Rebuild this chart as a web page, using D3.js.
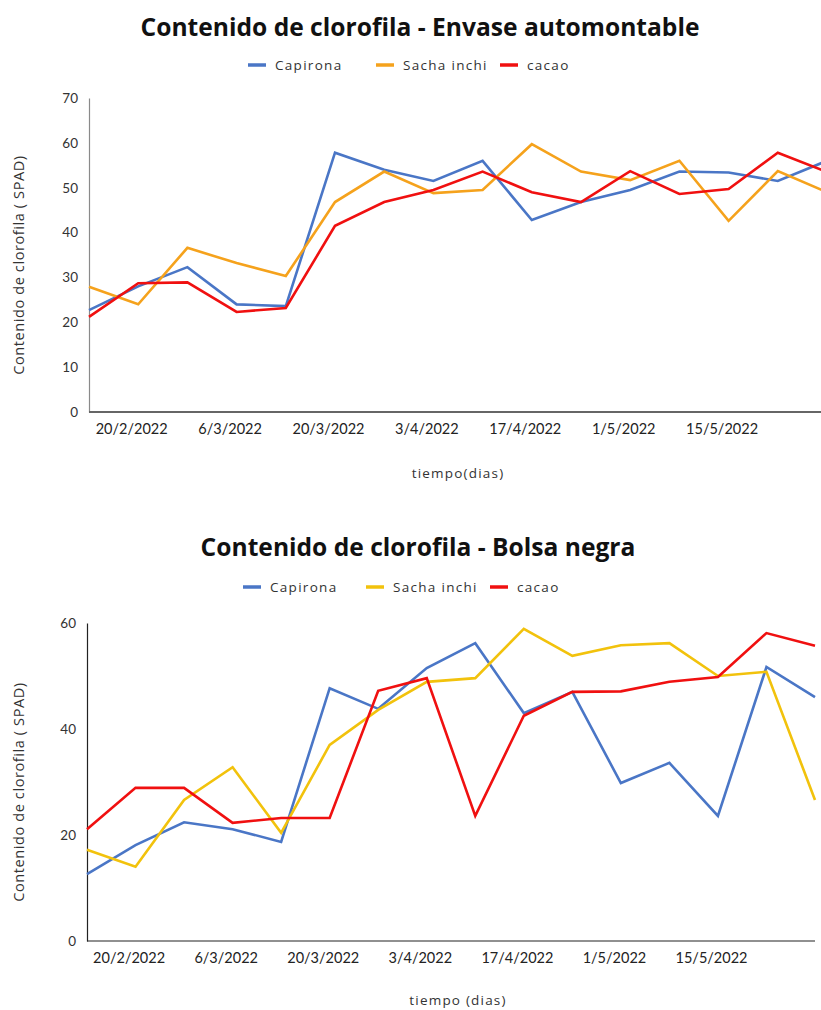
<!DOCTYPE html>
<html>
<head>
<meta charset="utf-8">
<script src="https://cdn.jsdelivr.net/npm/d3@7"></script>
<style>
  html, body { margin: 0; padding: 0; background: #fff; }
  svg { display: block; font-family: "Open Sans", "Lato", sans-serif; }
</style>
</head>
<body>
<svg id="chart" width="821" height="1010"></svg>
<script>
// Weekly measurement dates (Feb–May 2022)
const dates = ["2022-02-14","2022-02-21","2022-02-28","2022-03-07","2022-03-14","2022-03-21",
  "2022-03-28","2022-04-04","2022-04-11","2022-04-18","2022-04-25","2022-05-02",
  "2022-05-09","2022-05-16","2022-05-23","2022-05-30"];
const tickDates = ["2022-02-20","2022-03-06","2022-03-20","2022-04-03","2022-04-17","2022-05-01","2022-05-15"];
const seriesNames = ["Capirona", "Sacha inchi", "cacao"];

// Envase automontable (SPAD)
const envCapirona = [22.7, 28.0, 32.3, 24.0, 23.6, 57.8, 54.0, 51.5, 56.0, 42.8, 46.8, 49.5, 53.6, 53.4, 51.5, 56.0];
const envSacha    = [27.9, 24.0, 36.6, 33.2, 30.3, 46.8, 53.6, 48.8, 49.5, 59.7, 53.6, 51.7, 56.0, 42.6, 53.7, 49.0];
const envCacao    = [21.2, 28.7, 28.9, 22.3, 23.2, 41.5, 46.8, 49.5, 53.6, 49.0, 46.8, 53.7, 48.6, 49.7, 57.8, 53.5];

// Bolsa negra (SPAD)
const bolCapirona = [12.6, 18.1, 22.4, 21.1, 18.7, 47.7, 43.8, 51.5, 56.2, 43.0, 47.0, 29.8, 33.6, 23.6, 51.7, 46.0];
const bolSacha    = [17.2, 14.0, 26.6, 32.8, 20.4, 37.0, 43.6, 48.9, 49.6, 58.9, 53.8, 55.8, 56.2, 50.0, 50.8, 26.6];
const bolCacao    = [21.1, 28.9, 28.9, 22.3, 23.2, 23.2, 47.2, 49.6, 23.6, 42.5, 47.0, 47.1, 48.9, 49.8, 58.1, 55.7];

const envTicks = [0, 10, 20, 30, 40, 50, 60, 70];
const bolTicks = [0, 20, 40, 60];

const parse = d3.timeParse("%Y-%m-%d");
const fmt = d => `${d.getDate()}/${d.getMonth() + 1}/${d.getFullYear()}`;
const svg = d3.select("#chart");

function drawChart(cfg) {
  const g = svg.append("g");
  const x = d3.scaleTime()
    .domain([parse(dates[0]), parse(dates[dates.length - 1])])
    .range([cfg.left, cfg.right]);
  const y = d3.scaleLinear().domain([0, cfg.yMax]).range([cfg.bottom, cfg.top]);

  // title
  g.append("text")
    .attr("x", cfg.titleX).attr("y", cfg.titleY)
    .attr("text-anchor", "middle")
    .attr("font-size", 24.6).attr("font-weight", 700).attr("fill", "#111")
    .text(cfg.title);

  // legend
  const leg = g.append("g");
  cfg.legendPos.forEach((p, i) => {
    leg.append("line")
      .attr("x1", p).attr("x2", p + 18)
      .attr("y1", cfg.legendY).attr("y2", cfg.legendY)
      .attr("stroke", cfg.colors[i]).attr("stroke-width", 3.5);
    leg.append("text")
      .attr("x", p + 27).attr("y", cfg.legendY + 4.5)
      .attr("font-size", 13.5).attr("fill", "#333").attr("letter-spacing", 1.3)
      .text(seriesNames[i]);
  });

  // y axis labels
  const yAxis = d3.axisLeft(y).tickValues(cfg.yTicks).tickSize(0).tickPadding(11);
  const ya = g.append("g").attr("transform", `translate(${cfg.left},0)`).call(yAxis);
  ya.select(".domain").attr("stroke", cfg.yAxisColor).attr("stroke-width", 1.2);
  ya.selectAll("text").attr("font-size", 13.5).attr("fill", "#333").attr("font-family", "Lato, sans-serif");

  // x axis labels
  const xAxis = d3.axisBottom(x).tickValues(tickDates.map(parse)).tickFormat(fmt).tickSize(0).tickPadding(12);
  const xa = g.append("g").attr("transform", `translate(0,${cfg.bottom})`).call(xAxis);
  xa.select(".domain").attr("stroke", cfg.xAxisColor).attr("stroke-width", cfg.xAxisWidth)
    .attr("d", `M${cfg.left},0H${cfg.right}`);
  xa.selectAll("text").attr("font-size", 14.5).attr("fill", "#222").attr("font-family", "Lato, sans-serif");

  // axis titles
  g.append("text")
    .attr("transform", `translate(${cfg.yTitleX},${(cfg.top + cfg.bottom) / 2 + 10}) rotate(-90)`)
    .attr("text-anchor", "middle").attr("font-size", 14.5).attr("fill", "#333").attr("letter-spacing", 0.6)
    .text("Contenido de clorofila ( SPAD)");
  g.append("text")
    .attr("x", cfg.xTitleX).attr("y", cfg.xTitleY)
    .attr("text-anchor", "middle").attr("font-size", 13.5).attr("fill", "#333").attr("letter-spacing", 1.2)
    .text(cfg.xTitle);

  // series lines
  const line = d3.line()
    .x((d, i) => x(parse(dates[i])))
    .y(d => y(d));
  cfg.series.forEach((vals, i) => {
    g.append("path")
      .datum(vals)
      .attr("fill", "none")
      .attr("stroke", cfg.colors[i])
      .attr("stroke-width", 2.6)
      .attr("stroke-linejoin", "miter")
      .attr("d", line);
  });
}

drawChart({
  title: "Contenido de clorofila - Envase automontable",
  titleX: 420, titleY: 36,
  legendY: 65, legendPos: [248, 376, 500],
  left: 89, right: 827, top: 98, bottom: 412, yMax: 70,
  yTicks: envTicks,
  yAxisColor: "#8a8a8a", xAxisColor: "#666", xAxisWidth: 2.2,
  yTitleX: 24, xTitleX: 458, xTitleY: 478, xTitle: "tiempo(dias)",
  colors: ["#4a76c6", "#f5a21c", "#f01010"],
  series: [envCapirona, envSacha, envCacao]
});

drawChart({
  title: "Contenido de clorofila - Bolsa negra",
  titleX: 418, titleY: 556,
  legendY: 587, legendPos: [243, 366, 490],
  left: 87, right: 815, top: 623, bottom: 941, yMax: 60,
  yTicks: bolTicks,
  yAxisColor: "#222", xAxisColor: "#222", xAxisWidth: 1.2,
  yTitleX: 24, xTitleX: 458, xTitleY: 1005, xTitle: "tiempo (dias)",
  colors: ["#4a76c6", "#f2c20c", "#f01010"],
  series: [bolCapirona, bolSacha, bolCacao]
});
</script>
</body>
</html>
